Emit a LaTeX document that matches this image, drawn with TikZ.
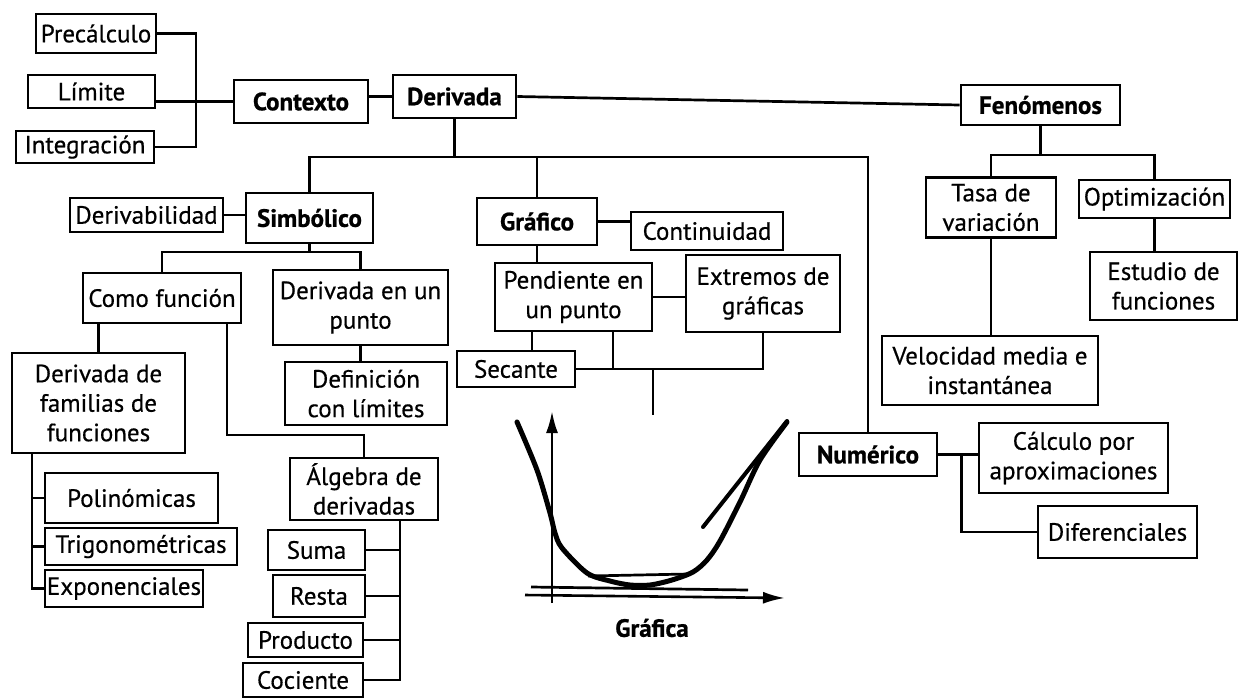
\documentclass[tikz,border=0pt]{standalone}
\usepackage{fontspec}
\setmainfont{PT Sans}[FakeBold=0.5]
\newfontfamily\regfont{PT Sans}[FakeBold=0.5]
\newfontfamily\heavyfont{PT Sans Bold}[FakeBold=0.8]
\usetikzlibrary{arrows.meta}
\begin{document}
\begin{tikzpicture}[x=1pt,y=-1pt,
  box/.style={draw, line width=2.8pt, inner sep=0pt, align=center, font=\fontsize{25}{29.5}\selectfont\regfont},
  bbox/.style={box, font=\fontsize{25}{29.5}\selectfont\heavyfont},
  conn/.style={line width=2.7pt},
  axis/.style={line width=2.6pt, -{Latex[length=22pt,width=12pt]}},
  curve/.style={line width=5pt, line join=round, line cap=round}]
\useasboundingbox (0,0) rectangle (1244,697);
\fill[white] (0,0) rectangle (1244,697);
% top left
\node[box, minimum width=120pt, minimum height=39pt] (prec) at (96,33.5) {Precálculo};
\node[box, minimum width=127pt, minimum height=33pt] (lim) at (91.5,91.5) {Límite};
\node[box, minimum width=138pt, minimum height=32pt] (integ) at (85,147) {Integración};
\node[bbox, minimum width=134pt, minimum height=43pt] (ctx) at (301,101.5) {Contexto};
\node[bbox, minimum width=123pt, minimum height=43pt] (der) at (454.5,96.5) {Derivada};
\node[bbox, minimum width=159pt, minimum height=40pt] (fen) at (1040.5,105) {Fenómenos};
% symbolic branch
\node[box, minimum width=153pt, minimum height=34pt] (derab) at (146.5,215) {Derivabilidad};
\node[bbox, minimum width=127pt, minimum height=50pt] (simb) at (309.5,218) {Simbólico};
\node[box, minimum width=158pt, minimum height=50pt] (comof) at (162,298) {Como función};
\node[box, minimum width=175pt, minimum height=75pt] (dpun) at (360.5,307.5) {Derivada en un\\punto};
\node[box, minimum width=162pt, minimum height=63pt] (defl) at (366,393.5) {Definición\\con límites};
\node[box, minimum width=173pt, minimum height=100pt] (fam) at (98.5,403) {Derivada de\\familias de\\funciones};
\node[box, minimum width=173pt, minimum height=50pt] (pol) at (131.5,498) {Polinómicas};
\node[box, minimum width=192pt, minimum height=37pt] (trig) at (141,546.5) {Trigonométricas};
\node[box, minimum width=158pt, minimum height=37pt] (exp) at (124,588.5) {Exponenciales};
\node[box, minimum width=148pt, minimum height=62pt] (alg) at (364,489) {Álgebra de\\derivadas};
\node[box, minimum width=97pt, minimum height=40pt] (suma) at (316.5,550) {Suma};
\node[box, minimum width=92pt, minimum height=42pt] (resta) at (319,596) {Resta};
\node[box, minimum width=115pt, minimum height=34pt] (prod) at (305.5,640) {Producto};
\node[box, minimum width=120pt, minimum height=34pt] (coc) at (303,680) {Cociente};
% graphic branch
\node[bbox, minimum width=120pt, minimum height=47pt] (graf) at (537,221.5) {Gráfico};
\node[box, minimum width=152pt, minimum height=38pt] (cont) at (707,231) {Continuidad};
\node[box, minimum width=157pt, minimum height=68pt] (pend) at (573.5,297) {Pendiente en\\un punto};
\node[box, minimum width=154pt, minimum height=77pt] (ext) at (763,293.5) {Extremos de\\gráficas};
\node[box, minimum width=118pt, minimum height=36pt] (sec) at (516,369) {Secante};
% phenomena branch
\node[box, minimum width=130pt, minimum height=60pt] (tasa) at (991,207.5) {Tasa de\\variación};
\node[box, minimum width=151pt, minimum height=38pt] (opt) at (1154.5,199) {Optimización};
\node[box, minimum width=147pt, minimum height=68pt] (est) at (1163.5,286) {Estudio de\\funciones};
\node[box, minimum width=216pt, minimum height=69pt] (vel) at (990,370.5) {Velocidad media e\\instantánea};
% numeric branch
\node[bbox, minimum width=138pt, minimum height=43pt] (num) at (868,454.5) {Numérico};
\node[box, minimum width=189pt, minimum height=70pt] (calc) at (1073.5,458) {Cálculo por\\aproximaciones};
\node[box, minimum width=159pt, minimum height=52pt] (dif) at (1117.5,532) {Diferenciales};
% helper coordinates
\coordinate (brx) at (196,0);
\coordinate (hb) at (455,157);
\coordinate (sb) at (310,252);
\coordinate (ab) at (227,435);
\coordinate (fb) at (1040,155);
\coordinate (gt) at (653,415);
% connectors top
\draw[conn] (prec.east) -| (brx |- integ.east) -- (integ.east);
\draw[conn] (lim.east |- ctx.west) -- (ctx.west);
\draw[conn] (ctx.east |- der.west) -- (der.west);
\draw[conn] (der.east) -- (fen.west);
\draw[conn] (der.south) -- (der.south |- hb);
\draw[conn] (simb.north) |- (num.north |- hb) -- (num.north);
\draw[conn] (graf.north) -- (graf.north |- hb);
% symbolic connectors
\draw[conn] (derab.east) -- (derab.east -| simb.west);
\draw[conn] (simb.south) -- (simb.south |- sb);
\draw[conn] (comof.north) |- (dpun.north |- sb) -- (dpun.north);
\draw[conn] (dpun.south) -- (dpun.south |- defl.north);
\draw[conn] (fam.north) -- (fam.north |- comof.south);
\draw[conn] ([xshift=65pt]comof.south) |- (alg.north |- ab) -- (alg.north);
\coordinate (fv) at ([xshift=-66.5pt]fam.south);
\draw[conn] (fv) |- (exp.west);
\draw[conn] (pol.west) -- (pol.west -| fv);
\draw[conn] (trig.west) -- (trig.west -| fv);
\coordinate (av) at ([xshift=36pt]alg.south);
\draw[conn] (av) |- (coc.east);
\draw[conn] (suma.east) -- (suma.east -| av);
\draw[conn] (resta.east) -- (resta.east -| av);
\draw[conn] (prod.east) -- (prod.east -| av);
% graphic connectors
\draw[conn] (graf.east) -- (graf.east -| cont.west);
\draw[conn] (graf.south) -- (graf.south |- pend.north);
\draw[conn] (pend.east) -- (pend.east -| ext.west);
\draw[conn] ([xshift=-41.5pt]pend.south) -- ([xshift=-41.5pt]pend.south |- sec.north);
\draw[conn] (sec.east) -| (ext.south);
\draw[conn] ([xshift=39.5pt]pend.south) -- ([xshift=39.5pt]pend.south |- sec.east);
\draw[conn] (gt |- sec.east) -- (gt);
% phenomena connectors
\draw[conn] (fen.south) -- (fen.south |- fb);
\draw[conn] (tasa.north) |- (opt.north |- fb) -- (opt.north);
\draw[conn] (tasa.south) -- (tasa.south |- vel.north);
\draw[conn] (opt.south) -- (opt.south |- est.north);
% numeric connectors
\draw[conn] (num.east) -- (num.east -| calc.west);
\coordinate (nj) at ([xshift=23pt]num.east);
\draw[conn] (nj) |- (dif.west);
% graph
\coordinate (yo) at (552,603);
\coordinate (yt) at (552,411);
\coordinate (xo) at (525,595);
\coordinate (xt) at (785,598);
\draw[axis] (yo) -- (yt);
\draw[axis] (xo) -- (xt);
\draw[conn] (531,587) -- (748,590);
\draw[curve] plot[smooth, tension=0.5] coordinates {(517,422) (537,470) (550,513) (555,533) (562,548) (587,573) (610,581) (630,585) (650,585) (672,580) (693,572) (707,560) (720,541) (740,502) (760,460) (787,422)};
\draw[conn] (588,576) -- (688,574);
\draw[line width=4pt, line cap=round] (703,527) -- (787,421);
\node[font=\fontsize{25}{29.5}\selectfont\heavyfont] (glab) at (652,628) {Gráfica};
\end{tikzpicture}
\end{document}
